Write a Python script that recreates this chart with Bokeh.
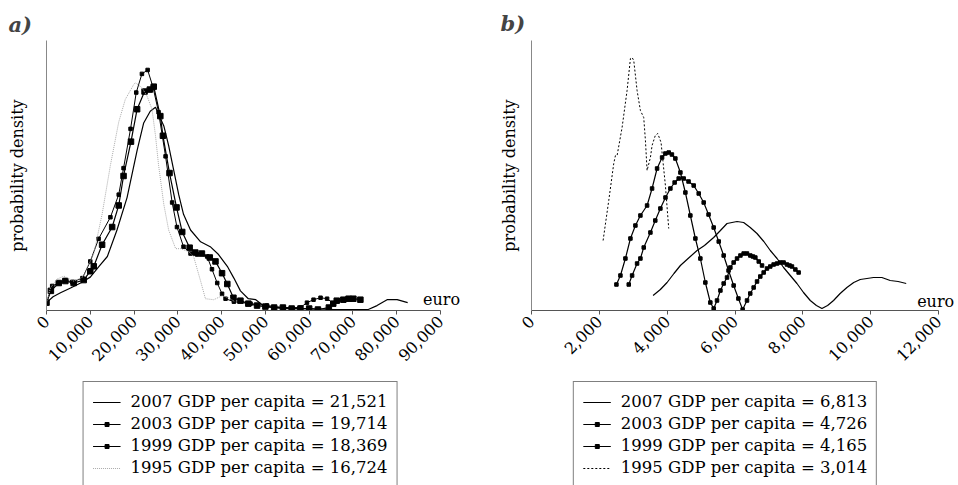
import math
from bokeh.plotting import figure
from bokeh.models import (Legend, LegendItem, Label, FixedTicker, NumeralTickFormatter,
                          Range1d, Title)
from bokeh.layouts import row, column
from bokeh.embed import file_html
from bokeh.resources import INLINE

FONT = "DejaVu Serif"

# ---------------- Panel a) data (euro, density in arbitrary units) ----------------
a_ticks = [0, 10000, 20000, 30000, 40000, 50000, 60000, 70000, 80000, 90000]

a2007_x = [0, 1500, 3200, 5500, 7800, 10000, 12000, 13900, 16100, 18400, 20700, 22200,
           23700, 24900, 26800, 27900, 29100, 30200, 31300, 32900, 35200, 37400, 39300,
           41300, 42800, 44300, 46100, 47800, 49500, 52000, 55000, 60000, 65000, 70000,
           73500, 75500, 77800, 80100, 82500]
a2007_y = [8, 14, 18, 23, 28, 34, 45, 55, 82, 115, 163, 191, 203, 207, 188, 168, 142, 118,
           98, 82, 70, 65, 57, 45, 33, 20, 12, 11, 5, 3, 2, 2, 1, 1, 1, 5, 11, 11, 8]

a2003_x = [0, 1000, 2800, 4300, 6200, 8500, 10000, 10800, 12700, 15000, 16500, 17600,
           19300, 20700, 22400, 23600, 24500, 26000, 26600, 28100, 29700, 31000, 32700,
           34000, 35500, 37300, 38600, 40100, 41300, 42700, 44300, 46100, 48100, 50000,
           52000, 54000, 56000, 58000, 60000, 62000, 64500, 65500, 66300, 67800, 69000,
           70100, 71700]
a2003_y = [8, 20, 28, 30, 28, 31, 40, 45, 67, 85, 107, 137, 172, 205, 223, 225, 228, 198,
           178, 140, 105, 80, 64, 59, 58, 54, 50, 38, 27, 13, 10, 7, 5, 4, 3, 3, 2, 2, 2,
           1, 3, 7, 10, 11, 12, 12, 11]

a1999_x = [0, 1300, 2800, 4300, 5900, 8200, 10000, 11900, 14600, 16500, 17600, 19200,
           20500, 21800, 23100, 24300, 25600, 27200, 28700, 29800, 31300, 32900, 34400,
           36700, 37800, 39000, 40100, 40900, 42800, 46600, 50400, 54200, 58000, 59500,
           61000, 62600, 64100, 65600]
a1999_y = [8, 25, 28, 31, 29, 33, 50, 73, 95, 118, 145, 185, 222, 241, 245, 228, 202, 157,
           110, 85, 65, 58, 57, 55, 42, 28, 17, 12, 9, 7, 5, 3, 3, 8, 11, 13, 12, 7]

a1995_x = [0, 900, 2400, 4000, 6200, 7800, 8500, 10800, 12700, 14600, 16500, 18000,
           19900, 20300, 21800, 23000, 24100, 24900, 25600, 26800, 27900, 29500, 30600,
           32500, 33600, 35200, 36300, 38200, 40100, 41600, 43000]
a1995_y = [8, 23, 32, 35, 30, 33, 35, 58, 98, 148, 192, 215, 230, 232, 227, 218, 205, 178,
           148, 108, 82, 63, 63, 60, 55, 30, 12, 11, 15, 13, 9]

a_labels = ["2007 GDP per capita = 21,521", "2003 GDP per capita = 19,714",
            "1999 GDP per capita = 18,369", "1995 GDP per capita = 16,724"]

# ---------------- Panel b) data ----------------
b_ticks = [0, 2000, 4000, 6000, 8000, 10000, 12000]

b2007_x = [3585, 3800, 3997, 4200, 4390, 4650, 4881, 5100, 5371, 5570, 5765, 6060, 6255,
           6450, 6648, 6850, 7041, 7240, 7433, 7630, 7827, 8020, 8219, 8400, 8563, 8730,
           8906, 9100, 9300, 9500, 9692, 9890, 10084, 10330, 10576, 10810, 11048]
b2007_y = [15, 21, 28, 37, 45, 53, 60, 65, 73, 80, 87, 89, 88, 83, 77, 69, 60, 52, 43, 35,
           27, 18, 10, 5, 2, 5, 10, 17, 23, 28, 31, 32, 33, 33, 30, 29, 27]

b2003_x = [2867, 2966, 3113, 3211, 3309, 3506, 3650, 3800, 3950, 4095, 4220, 4340, 4487,
           4630, 4782, 4930, 5077, 5220, 5371, 5520, 5666, 5810, 5960, 6100, 6225, 6354,
           6450, 6550, 6650, 6746, 6845, 6943, 7040, 7139, 7240, 7335, 7433, 7532, 7610,
           7680, 7780, 7876]
b2003_y = [26, 35, 47, 52, 63, 78, 90, 102, 113, 122, 128, 132, 132, 129, 125, 117, 108,
           96, 83, 69, 55, 40, 25, 12, 1, 10, 17, 23, 29, 34, 38, 42, 44, 46, 47, 48, 48,
           46, 45, 44, 41, 38]

b1999_x = [2504, 2622, 2769, 2917, 3064, 3211, 3408, 3555, 3703, 3850, 3948, 4046, 4140,
           4242, 4390, 4537, 4684, 4832, 4979, 5126, 5273, 5372, 5470, 5570, 5666, 5765,
           5863, 5960, 6060, 6160, 6255, 6354, 6452, 6530, 6600, 6700, 6797]
b1999_y = [26, 35, 52, 72, 85, 95, 105, 122, 142, 153, 157, 158, 156, 152, 138, 118, 95,
           72, 52, 28, 8, 2, 10, 20, 27, 33, 43, 48, 52, 55, 57, 57, 55, 54, 53, 49, 45]

b1995_x = [2111, 2278, 2425, 2475, 2524, 2671, 2818, 2917, 2966, 3015, 3113, 3211, 3309,
           3359, 3408, 3506, 3555, 3650, 3722, 3820, 3948, 4046]
b1995_y = [70, 110, 147, 155, 155, 183, 220, 252, 253, 250, 220, 200, 193, 170, 140, 153,
           165, 175, 177, 168, 125, 82]

b_labels = ["2007 GDP per capita = 6,813", "2003 GDP per capita = 4,726",
            "1999 GDP per capita = 4,165", "1995 GDP per capita = 3,014"]

PLOT_H = 375
LEG_H = 110


def make_panel(title, width, x_axis_end, axis_px, frame_px, y_end, ticks, border_left,
               border_right, border_top, title_offset, title_standoff, ylabel_standoff,
               euro_x, euro_y):
    # the frame is a little wider than the axis so that the "euro" label fits
    x_end = x_axis_end * frame_px / axis_px
    p = figure(width=width, height=PLOT_H, output_backend="svg", toolbar_location=None,
               x_range=Range1d(0, x_end), y_range=Range1d(0, y_end),
               min_border_left=border_left, min_border_right=border_right,
               min_border_top=border_top, min_border_bottom=PLOT_H - 310)
    p.outline_line_color = None
    p.xgrid.visible = False
    p.ygrid.visible = False

    xa = p.xaxis[0]
    xa.ticker = FixedTicker(ticks=ticks)
    xa.bounds = (0, x_axis_end)
    xa.formatter = NumeralTickFormatter(format="0,0")
    xa.major_label_orientation = math.pi / 4
    xa.major_label_text_font = FONT
    xa.major_label_text_font_size = "16px"
    xa.major_label_text_color = "black"
    xa.major_label_standoff = 4
    xa.axis_line_color = "#555555"
    xa.major_tick_line_color = "#555555"
    xa.major_tick_in = 0
    xa.major_tick_out = 4
    xa.minor_tick_line_color = None

    ya = p.yaxis[0]
    ya.ticker = FixedTicker(ticks=[])
    ya.axis_label = "probability density"
    ya.axis_label_text_font = FONT
    ya.axis_label_text_font_size = "16px"
    ya.axis_label_text_font_style = "normal"
    ya.axis_label_text_color = "black"
    ya.axis_label_standoff = ylabel_standoff
    ya.axis_line_color = "#888888"
    ya.major_tick_line_color = None
    ya.minor_tick_line_color = None

    p.add_layout(Title(text=title, align="left", offset=title_offset,
                       text_font=FONT, text_font_size="21px",
                       text_font_style="bold italic", standoff=title_standoff), "above")

    p.add_layout(Label(x=euro_x, y=euro_y, text="euro", text_font=FONT,
                       text_font_size="16px", text_color="black",
                       text_baseline="alphabetic"))
    return p


def make_legend_fig(width, border_left, series, labels):
    # legend-only figure below each panel; the series are drawn outside its visible range
    lf = figure(width=width, height=LEG_H, output_backend="svg", toolbar_location=None,
                x_axis_type=None, y_axis_type=None, x_range=Range1d(-2, -1),
                y_range=Range1d(-2, -1), min_border_left=border_left, min_border_right=0,
                min_border_top=0, min_border_bottom=0)
    lf.outline_line_color = None
    lf.xgrid.visible = False
    lf.ygrid.visible = False
    items = []
    for (xs, ys, color, lw, dash, msize), lab in zip(series, labels):
        rs = [lf.line(xs, ys, line_color=color, line_width=lw, line_dash=dash)]
        if msize:
            rs.append(lf.scatter(xs, ys, marker="square", size=msize, color="black"))
        items.append(LegendItem(label=lab, renderers=rs))
    leg = Legend(items=items, location="top_center", orientation="vertical")
    leg.border_line_color = "black"
    leg.border_line_width = 1
    leg.background_fill_color = "white"
    leg.background_fill_alpha = 1
    leg.label_text_font = FONT
    leg.label_text_font_size = "16.5px"
    leg.label_text_color = "black"
    leg.glyph_width = 28
    leg.glyph_height = 10
    leg.label_height = 21
    leg.label_standoff = 10
    leg.spacing = 1
    leg.padding = 9
    leg.margin = 6
    lf.add_layout(leg)
    return lf


# ---------------- Panel a) ----------------
a_series = [(a2007_x, a2007_y, "black", 1.2, "solid", None),
            (a2003_x, a2003_y, "black", 1.2, "solid", 5.5),
            (a1999_x, a1999_y, "black", 1, "solid", 3.5),
            (a1995_x, a1995_y, "#aaaaaa", 1, "1 1", None)]

pa = make_panel("a)", 480, 90000, 394, 418, 275, a_ticks, 46, 16, 35, -38, 8, 20,
                86000, 11)
for xs, ys, color, lw, dash, msize in a_series:
    pa.line(xs, ys, line_color=color, line_width=lw, line_dash=dash)
    if msize:
        pa.scatter(xs, ys, marker="square", size=msize, color="black")

la = make_legend_fig(480, 0, a_series, a_labels)

# ---------------- Panel b) ----------------
b_series = [(b2007_x, b2007_y, "black", 1.2, "solid", None),
            (b2003_x, b2003_y, "black", 1.2, "solid", 3.5),
            (b1999_x, b1999_y, "black", 1.2, "solid", 3.5),
            (b1995_x, b1995_y, "black", 1, "2 2", None)]

pb = make_panel("b)", 478, 12000, 407, 425, 270, b_ticks, 51, 2, 40, -31, 10, 13,
                11370, 9)
for xs, ys, color, lw, dash, msize in b_series:
    pb.line(xs, ys, line_color=color, line_width=lw, line_dash=dash)
    if msize:
        pb.scatter(xs, ys, marker="square", size=msize, color="black")

lb = make_legend_fig(478, 12, b_series, b_labels)

layout = column(row(pa, pb), row(la, lb))
open("out.html", "w").write(file_html(layout, INLINE))
